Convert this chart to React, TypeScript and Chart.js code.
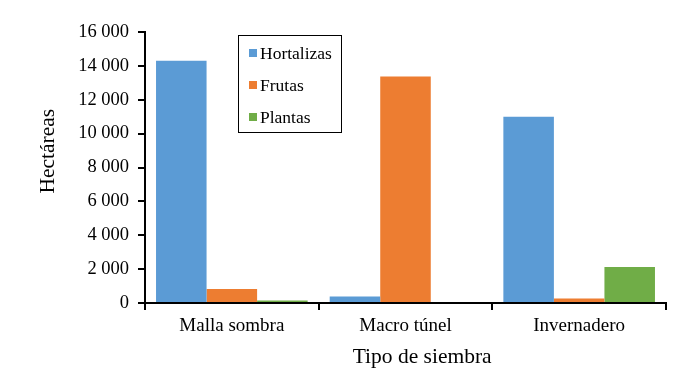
import React, { useEffect, useRef } from "react";
import { Chart, registerables } from "chart.js";

Chart.register(...registerables);

const categories = ["Malla sombra", "Macro túnel", "Invernadero"];
const seriesNames = ["Hortalizas", "Frutas", "Plantas"];
const hortalizas = [14300, 380, 11000];
const frutas = [820, 13380, 260];
const plantas = [150, 0, 2120];
const seriesColors = ["#5B9BD5", "#ED7D31", "#70AD47"];
const yMax = 16000;
const yStep = 2000;
const xTitle = "Tipo de siembra";
const yTitle = "Hectáreas";

const FONT = "Liberation Serif";

const fmt = (v: number) => String(v).replace(/\B(?=(\d{3})+(?!\d))/g, " ");

const overlayPlugin = {
  id: "overlay",
  afterDraw(chart: any) {
    const ctx = chart.ctx as CanvasRenderingContext2D;
    const a = chart.chartArea;
    ctx.save();
    ctx.fillStyle = "#000";
    ctx.font = `21.5px "${FONT}"`;
    ctx.textAlign = "center";
    ctx.textBaseline = "middle";
    ctx.fillText(xTitle, a.left + (a.right - a.left) * 0.532, 357);
    ctx.save();
    ctx.translate(48, a.top + (a.bottom - a.top) * 0.44);
    ctx.rotate(-Math.PI / 2);
    ctx.fillText(yTitle, 0, 0);
    ctx.restore();
    const bx = a.left + 93;
    const by = a.top + 3;
    const bw = 103;
    const bh = 97;
    ctx.strokeStyle = "#000";
    ctx.lineWidth = 1;
    ctx.strokeRect(bx + 0.5, by + 0.5, bw, bh);
    ctx.font = `17.5px "${FONT}"`;
    ctx.textAlign = "left";
    const ds = chart.data.datasets;
    ds.forEach((d: any, i: number) => {
      const cy = by + 18 + i * 32;
      ctx.fillStyle = d.backgroundColor;
      ctx.fillRect(bx + 11, cy - 4, 8, 8);
      ctx.fillStyle = "#000";
      ctx.fillText(d.label, bx + 22, cy + 1);
    });
    ctx.restore();
  },
};

export default function App() {
  const ref = useRef<HTMLCanvasElement>(null);
  useEffect(() => {
    document.body.style.margin = "0";
    const seriesValues = [hortalizas, frutas, plantas];
    const chart = new Chart(ref.current!, {
      type: "bar",
      data: {
        labels: categories,
        datasets: seriesNames.map((n, i) => ({
          label: n,
          data: seriesValues[i],
          backgroundColor: seriesColors[i],
          borderWidth: 0,
          barPercentage: 1,
          categoryPercentage: 0.873,
        })),
      },
      options: {
        animation: false,
        responsive: false,
        maintainAspectRatio: false,
        layout: { padding: { top: 32, right: 34, bottom: 0, left: 0 } },
        plugins: { legend: { display: false }, tooltip: { enabled: false } },
        scales: {
          x: {
            offset: true,
            grid: {
              offset: true,
              drawOnChartArea: false,
              drawTicks: true,
              tickLength: 7,
              color: "#000",
              lineWidth: 2,
            },
            border: { display: true, color: "#000", width: 2 },
            ticks: { color: "#000", font: { family: FONT, size: 19 }, padding: 5 },
            afterFit(scale: any) {
              scale.height = 89;
            },
          },
          y: {
            min: 0,
            max: yMax,
            grid: {
              drawOnChartArea: false,
              drawTicks: true,
              tickLength: 7,
              color: "#000",
              lineWidth: 2,
            },
            border: { display: true, color: "#000", width: 2 },
            ticks: {
              stepSize: yStep,
              color: "#000",
              font: { family: FONT, size: 18.5 },
              padding: 9,
              callback: (v: any) => fmt(Number(v)),
            },
            afterFit(scale: any) {
              scale.width = 145;
            },
          },
        },
      },
      plugins: [overlayPlugin],
    });
    return () => chart.destroy();
  }, []);
  return (
    <div style={{ width: 700, height: 392, background: "#fff" }}>
      <canvas ref={ref} width={700} height={392} />
    </div>
  );
}
